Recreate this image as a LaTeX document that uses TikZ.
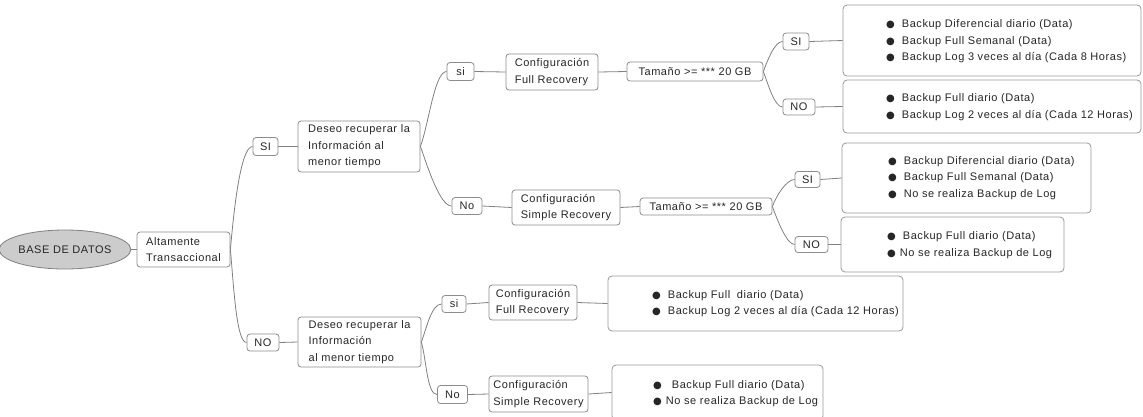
\documentclass[tikz,border=0pt]{standalone}
\usepackage{fontspec}
\setmainfont{Liberation Sans}[LetterSpace=5]
\newfontfamily\symf{DejaVu Sans}
\usetikzlibrary{shapes.geometric,calc}
\newcommand\bul{{\symf\fontsize{10}{10}\selectfont ●}\hspace{7pt}}
\newcommand\bult{{\symf\fontsize{10}{10}\selectfont ●}\hspace{4pt}}
\begin{document}
\begin{tikzpicture}[x=1pt,y=1pt, font=\fontsize{11}{16.5}\selectfont,
 box/.style={draw=black!45, line width=0.8pt, rounded corners=3pt, align=left, text=black!85, inner xsep=4pt, inner ysep=2pt},
 bigbox/.style={draw=black!40, line width=0.8pt, rounded corners=4pt, inner sep=0pt},
 lst/.style={align=left, anchor=west, text=black!85, inner sep=0pt},
 link/.style={draw=black!50, line width=0.8pt}]
\useasboundingbox (0,0) rectangle (1143,-416);
\clip (0,0) rectangle (1143,-416);
\fill[white] (0,0) rectangle (1143,-416);

% root
\node[ellipse, draw=black!50, fill=black!20, line width=0.8pt, minimum width=116, minimum height=39, inner sep=0pt, text=black!85] (root) at (65,-249.5) {BASE DE DATOS};
\node[box, minimum width=93, minimum height=35] (alt) at (183.5,-249.5) {Altamente\\Transaccional};

% level 2
\node[box, minimum width=25, minimum height=18] (si1) at (265.5,-146.5) {SI};
\node[box, minimum width=32, minimum height=17] (no1) at (263,-342.5) {NO};
\node[box, minimum width=122, minimum height=51] (d1) at (359,-146.5) {Deseo recuperar la\\Información al\\menor tiempo};
\node[box, minimum width=123, minimum height=50] (d2) at (359.5,-342) {Deseo recuperar la\\Información\\al menor tiempo};

% upper branch
\node[box, minimum width=27, minimum height=18] (s11) at (460.5,-71.5) {si};
\node[box, minimum width=30, minimum height=17] (n11) at (467,-206) {No};
\node[box, minimum width=92, minimum height=36] (c11) at (552,-72) {Configuración\\Full Recovery};
\node[box, minimum width=108, minimum height=35] (c12) at (566,-207.5) {Configuración\\Simple Recovery};
\node[box, minimum width=136, minimum height=19] (t11) at (695,-71.5) {Tamaño >= *** 20 GB};
\node[box, minimum width=132, minimum height=17] (t12) at (706,-206.5) {Tamaño >= *** 20 GB};
\node[box, minimum width=26, minimum height=17] (s111) at (796,-41.5) {SI};
\node[box, minimum width=32, minimum height=16] (n111) at (799,-107) {NO};
\node[box, minimum width=25, minimum height=16] (s121) at (807.5,-179.5) {SI};
\node[box, minimum width=33, minimum height=16] (n121) at (811.5,-244.5) {NO};

\node[bigbox, minimum width=298, minimum height=71] (b1) at (992,-40.5) {};
\node[bigbox, minimum width=298, minimum height=53] (b2) at (992,-106.5) {};
\node[bigbox, minimum width=249, minimum height=70] (b3) at (966.5,-178) {};
\node[bigbox, minimum width=223, minimum height=55] (b4) at (952.5,-244.5) {};

\node[lst] (l1) at (886,-41.5) {\bul Backup Diferencial diario (Data)\\\bul Backup Full Semanal (Data)\\\bul Backup Log 3 veces al día (Cada 8 Horas)};
\node[lst] (l2) at (886,-107) {\bul Backup Full diario (Data)\\\bul Backup Log 2 veces al día (Cada 12 Horas)};
\node[lst] (l3) at (888,-178) {\bul Backup Diferencial diario (Data)\\\bul Backup Full Semanal (Data)\\\bul No se realiza Backup de Log};
\node[lst] (l4) at (887,-245) {\bul Backup Full diario (Data)\\\bult No se realiza Backup de Log};

% lower branch
\node[box, minimum width=24, minimum height=17] (s21) at (454,-304) {si};
\node[box, minimum width=30, minimum height=18] (n21) at (452.5,-394.5) {No};
\node[box, minimum width=88, minimum height=35] (c21) at (533,-302.5) {Configuración\\Full Recovery};
\node[box, minimum width=99, minimum height=36] (c22) at (538.5,-394) {Configuración\\Simple Recovery};
\node[bigbox, minimum width=295, minimum height=55] (b5) at (755.5,-303.5) {};
\node[bigbox, minimum width=211, minimum height=55] (b6) at (717.5,-392.5) {};
\node[lst] (l5) at (652,-303.5) {\bul Backup Full\hspace{3pt} diario (Data)\\\bul Backup Log 2 veces al día (Cada 12 Horas)};
\node[lst] (l6) at (653,-393.5) {\bul\hspace{3pt}Backup Full diario (Data)\\\bult No se realiza Backup de Log};

% straight links
\draw[link] (root.east) -- (alt.west);
\draw[link] (si1.east) -- (d1.west);
\draw[link] (no1.east) -- (d2.west);
\draw[link] (s11.east) -- (c11.west);
\draw[link] (c11.east) -- (t11.west);
\draw[link] (n11.east) -- (c12.west);
\draw[link] (c12.east) -- (t12.west);
\draw[link] (s111.east) -- (b1.west);
\draw[link] (n111.east) -- (b2.west);
\draw[link] (s121.east) -- (b3.west);
\draw[link] (n121.east) -- (b4.west);
\draw[link] (s21.east) -- (c21.west);
\draw[link] (c21.east) -- (b5.west);
\draw[link] (n21.east) -- (c22.west);
\draw[link] (c22.east) -- (b6.west);

% curved links
\draw[link] (alt.east) to[out=85, in=180, out distance=40, in distance=12] (si1.west);
\draw[link] (alt.east) to[out=-85, in=180, out distance=40, in distance=10] (no1.west);
\draw[link] (d1.east) to[out=70, in=180, out distance=25, in distance=12] (s11.west);
\draw[link] (d1.east) to[out=-70, in=180, out distance=20, in distance=12] (n11.west);
\draw[link] (d2.east) to[out=70, in=180, out distance=15, in distance=10] (s21.west);
\draw[link] (d2.east) to[out=-75, in=180, out distance=20, in distance=10] (n21.west);
\draw[link] (t11.east) to[out=70, in=180, out distance=12, in distance=8] (s111.west);
\draw[link] (t11.east) to[out=-70, in=180, out distance=14, in distance=8] (n111.west);
\draw[link] (t12.east) to[out=70, in=180, out distance=12, in distance=8] (s121.west);
\draw[link] (t12.east) to[out=-70, in=180, out distance=14, in distance=8] (n121.west);
\end{tikzpicture}
\end{document}
